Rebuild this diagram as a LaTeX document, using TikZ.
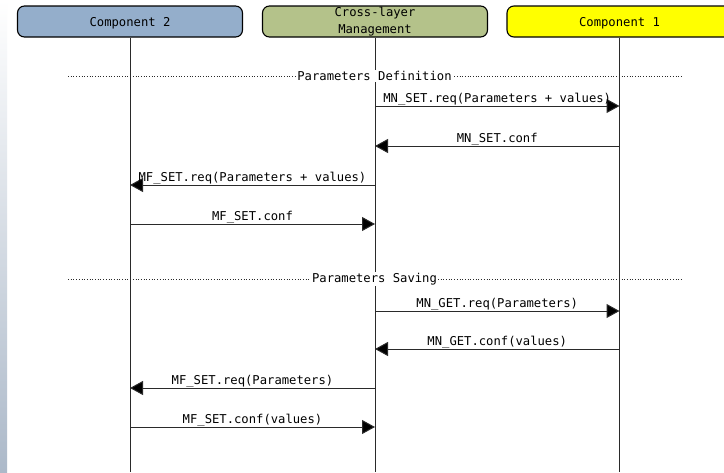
\documentclass[tikz,border=0pt]{standalone}
\usepackage{fontspec}
\setmonofont{DejaVu Sans Mono}
\usetikzlibrary{arrows.meta}
\definecolor{compblue}{HTML}{94AECB}
\definecolor{crossgreen}{HTML}{B4C28A}
\definecolor{compyellow}{HTML}{FFFF00}
\definecolor{linegray}{HTML}{2A2A2A}
\begin{document}
\begin{tikzpicture}[x=1pt,y=-1pt,
  every node/.style={font=\ttfamily\fontsize{12.2}{16.5}\selectfont, inner sep=0pt, text=black},
  entity/.style={draw=black, line width=1.1pt, rounded corners=7pt, minimum width=225pt, minimum height=31pt, align=center},
  onelineentity/.style={entity, text depth=0pt},
  lifeline/.style={draw=linegray, line width=1pt},
  msg/.style={draw=linegray, line width=1pt, -{Triangle[length=13pt,width=14pt,fill=black]}},
  msglabel/.style={anchor=base, yshift=3.5pt},
  divider/.style={draw=linegray, line width=0.7pt, dotted},
  divlabel/.style={fill=white, inner xsep=1pt, inner ysep=1pt}
]
\useasboundingbox (0,0) rectangle (724,472);
\fill[white] (0,0) rectangle (724,472);
\shade[top color=white, bottom color={rgb,255:red,172;green,185;blue,201}] (0,0) rectangle (7,472);
\begin{scope}
\clip (0,0) rectangle (724,472);
\node[onelineentity, fill=compblue] (c2) at (130,21.5) {Component 2};
\node[entity, fill=crossgreen] (cl) at (375,21.5) {Cross-layer\\Management};
\node[onelineentity, fill=compyellow] (c1) at (619.5,21.5) {Component 1};
\end{scope}
% lifeline ends
\coordinate (c2e) at (130,472);
\coordinate (cle) at (375,472);
\coordinate (c1e) at (619.5,472);
\draw[lifeline] (c2.south) -- (c2e);
\draw[lifeline] (cl.south) -- (cle);
\draw[lifeline] (c1.south) -- (c1e);
% dividers
\coordinate (d1l) at (68,76);
\coordinate (d1r) at (682,76);
\draw[divider] (d1l) -- (d1r);
\node[divlabel] (d1) at (374.5,76) {Parameters Definition};
\coordinate (d2l) at (68,279);
\coordinate (d2r) at (682,279);
\draw[divider] (d2l) -- (d2r);
\node[divlabel] (d2) at (374.5,279) {Parameters Saving};
% message anchor coordinates
\foreach \y [count=\i] in {106,146,185,224,311,349,388,427} {
  \coordinate (a\i) at (130,\y);
  \coordinate (b\i) at (375,\y);
  \coordinate (c\i) at (619.5,\y);
}
\draw[msg] (b1) -- node[msglabel] (m1) {MN\_SET.req(Parameters + values)} (c1);
\draw[msg] (c2) -- node[msglabel] (m2) {MN\_SET.conf} (b2);
\draw[msg] (b3) -- node[msglabel] (m3) {MF\_SET.req(Parameters + values)} (a3);
\draw[msg] (a4) -- node[msglabel] (m4) {MF\_SET.conf} (b4);
\draw[msg] (b5) -- node[msglabel] (m5) {MN\_GET.req(Parameters)} (c5);
\draw[msg] (c6) -- node[msglabel] (m6) {MN\_GET.conf(values)} (b6);
\draw[msg] (b7) -- node[msglabel] (m7) {MF\_SET.req(Parameters)} (a7);
\draw[msg] (a8) -- node[msglabel] (m8) {MF\_SET.conf(values)} (b8);
\end{tikzpicture}
\end{document}
